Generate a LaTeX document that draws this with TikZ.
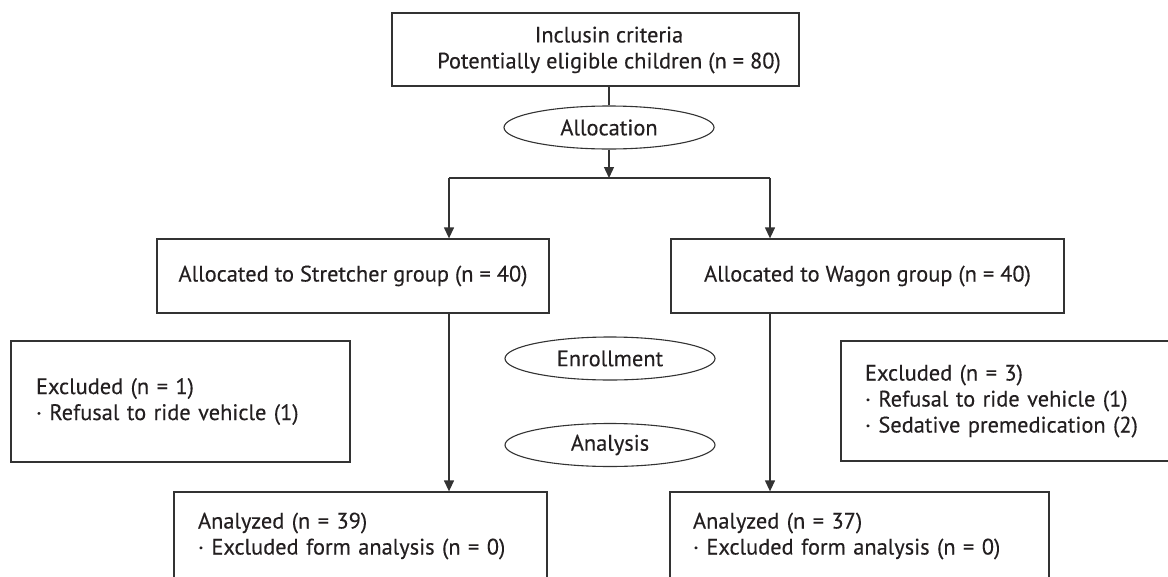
\documentclass[tikz,border=0pt]{standalone}
\usepackage{fontspec}
\setmainfont{PT Sans}[FakeBold=0.25]
\usetikzlibrary{shapes.geometric,arrows.meta}
\definecolor{ln}{HTML}{333333}
\definecolor{tx}{HTML}{231F20}
\begin{document}
\begin{tikzpicture}[x=1pt,y=-1pt,
  every node/.style={font=\fontsize{22.4}{26}\selectfont, text=tx},
  box/.style={draw=ln, line width=1.3pt, rectangle, inner sep=0pt, align=center},
  lbox/.style={draw=ln, line width=1.3pt, rectangle, inner ysep=0pt, align=left},
  oval/.style={draw=ln, line width=1.1pt, ellipse, inner sep=0pt, minimum width=210pt, minimum height=43pt},
  conn/.style={draw=ln, line width=1.3pt},
  arr/.style={conn, -{Triangle[length=11pt,width=10pt]}}]
\useasboundingbox (0,0) rectangle (1168,576);
\clip (0,0) rectangle (1168,576);
\fill[white] (0,0) rectangle (1168,576);

\node[box, minimum width=407pt, minimum height=73pt] (top) at (595.5,49.5) {};
\node[align=center, inner sep=0pt] (toptext) at (609,50)
  {Inclusin criteria\\Potentially eligible children (n = 80)};
\node[oval] (alloc) at (609,127.5) {Allocation};
\coordinate (split) at (609,178);
\coordinate (brL) at (449,178);
\coordinate (brR) at (770,178);

\node[box, minimum width=392pt, minimum height=74pt] (sL) at (353,276)
  {Allocated to Stretcher group (n = 40)};
\node[box, minimum width=393pt, minimum height=74pt] (sR) at (867.5,276)
  {Allocated to Wagon group (n = 40)};

\node[oval] (enr) at (610,358.5) {Enrollment};
\node[oval] (ana) at (610,445) {Analysis};

\node[lbox, inner xsep=25pt, text width=289pt, minimum height=121pt] (exL) at (180.5,401.5)
  {Excluded (n = 1)\\· Refusal to ride vehicle (1)};
\node[lbox, inner xsep=24pt, text width=286pt, minimum height=120pt] (exR) at (1008,401)
  {Excluded (n = 3)\\· Refusal to ride vehicle (1)\\· Sedative premedication (2)};

\node[lbox, inner xsep=24pt, text width=325pt, minimum height=88pt] (aL) at (360.5,536)
  {Analyzed (n = 39)\\· Excluded form analysis (n = 0)};
\node[lbox, inner xsep=23pt, text width=333pt, minimum height=88pt] (aR) at (859.5,536)
  {Analyzed (n = 37)\\· Excluded form analysis (n = 0)};

\draw[conn] (alloc.north) -- (alloc.north |- top.south);
\draw[arr] (alloc.south) -- (split);
\draw[conn] (brL) -- (brR);
\draw[arr] (brL) -- (brL |- sL.north);
\draw[arr] (brR) -- (brR |- sR.north);
\draw[arr] (brL |- sL.south) -- (brL |- aL.north);
\draw[arr] (brR |- sR.south) -- (brR |- aR.north);
\end{tikzpicture}
\end{document}
